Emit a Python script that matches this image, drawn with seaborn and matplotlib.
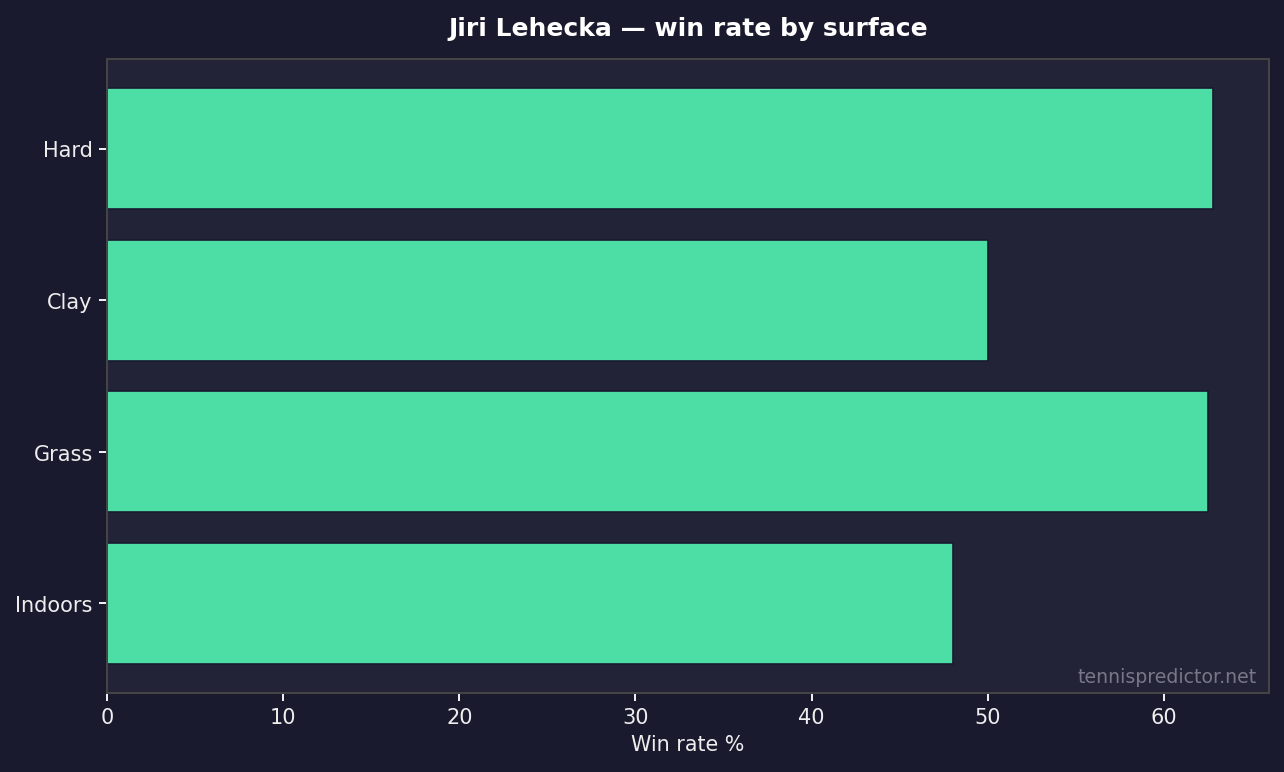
import pandas as pd
import matplotlib
matplotlib.use("Agg")
from matplotlib import pyplot as plt
import seaborn as sns

# win rate per surface
surfaces = ["Hard", "Clay", "Grass", "Indoors"]
win_rates = [62.8, 50.0, 62.5, 48.0]

BG = "#1a1a2e"
AX_BG = "#232337"
BAR = "#4ddea6"
TXT = "#eeeeee"

sns.set_theme(style="dark")
plt.rcParams["font.family"] = ["DejaVu Sans"]

df = pd.DataFrame({"surface": surfaces, "win": win_rates})

fig, ax = plt.subplots(figsize=(10.7, 6.44), dpi=120)
fig.patch.set_facecolor(BG)
ax.set_facecolor(AX_BG)
fig.subplots_adjust(left=0.0833, right=0.988, top=0.9225, bottom=0.1023)

sns.barplot(data=df, x="win", y="surface", orient="h", color=BAR, saturation=1,
            width=0.8, edgecolor=BG, linewidth=1, ax=ax)

ax.set_xlim(0, max(win_rates) * 1.05)
ax.set_ylim(3.59, -0.59)

ax.set_title("Jiri Lehecka — win rate by surface", color="white",
             fontsize=15, fontweight="bold", pad=14.5)
ax.set_xlabel("Win rate %", color=TXT, fontsize=12.4)
ax.set_ylabel("")
ax.tick_params(colors=TXT, labelsize=12.5, length=5, width=1.2, bottom=True, left=True)
for s in ax.spines.values():
    s.set_color("#444444")
    s.set_linewidth(1.2)
    s.set_visible(True)
ax.grid(False)

ax.text(0.99, 0.01, "tennispredictor.net", transform=ax.transAxes,
        ha="right", va="bottom", color="#777788", fontsize=11.3)

plt.savefig("out.png", dpi=120, facecolor=BG)
